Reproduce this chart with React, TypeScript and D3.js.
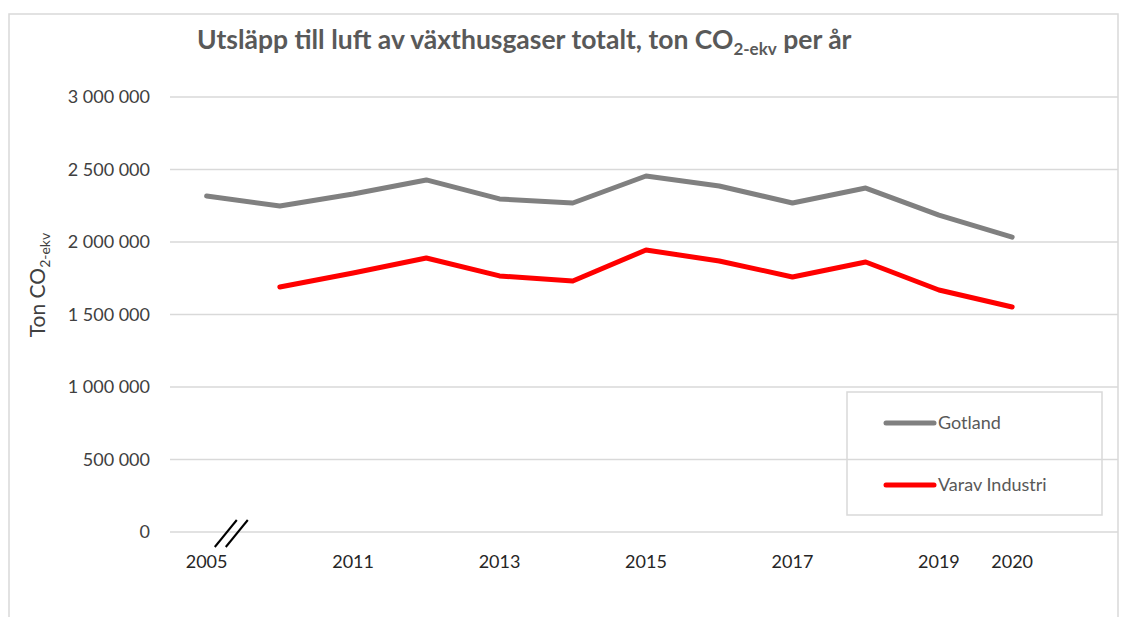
import React from 'react';
import * as d3 from 'd3';

const width = 1123;
const height = 617;
const margin = { top: 97, right: 5, bottom: 85, left: 170 };
const plotBottom = 532;
const gridRight = 1118;
const scaleRight = 1122;

// data
const years = ['2005', '2010', '2011', '2012', '2013', '2014', '2015', '2016', '2017', '2018', '2019', '2020'];
const tickLabels = ['2005', '', '2011', '', '2013', '', '2015', '', '2017', '', '2019', '2020'];
const gotland = [2317000, 2248000, 2331000, 2428000, 2297000, 2269000, 2455000, 2386000, 2269000, 2372000, 2186000, 2034000];
const industri = [null, 1690000, 1786000, 1890000, 1766000, 1731000, 1945000, 1869000, 1759000, 1862000, 1669000, 1552000];
const yTicks = [0, 500000, 1000000, 1500000, 2000000, 2500000, 3000000];

const seriesNames = ['Gotland', 'Varav Industri'];
const seriesColors = ['#808080', '#ff0000'];

const font = 'Lato, "Open Sans", sans-serif';
const fmt = d3.formatLocale({ decimal: ',', thousands: '\u00a0', grouping: [3], currency: ['', ' kr'] }).format(',d');

const App = () => {
  // an empty slot after 2020, like the Excel category axis
  const x = d3
    .scaleBand<string>()
    .domain([...years, ''])
    .range([margin.left, scaleRight])
    .padding(0);
  const cx = (i: number) => (x(years[i]) as number) + x.bandwidth() / 2;

  const y = d3.scaleLinear().domain([0, 3000000]).range([plotBottom, margin.top]);

  const line = d3
    .line<number | null>()
    .defined(d => d != null)
    .x((d, i) => cx(i))
    .y(d => y(d as number));

  const series = [gotland, industri];

  // axis break marks between the first two categories
  const bx = cx(0) + x.step() * 0.33;

  return (
    <svg width={width} height={height} style={{ position: 'absolute', left: 0, top: 0, background: '#fff' }}>
      <rect x={9} y={14} width={1109} height={700} fill="#fff" stroke="#d9d9d9" strokeWidth={1.5} />

      <text x={197} y={49} fontFamily={font} fontWeight="bold" fontSize={26.5} fill="#595959">
        Utsläpp till luft av växthusgaser totalt, ton CO
        <tspan fontSize={17} dy={6}>2-ekv</tspan>
        <tspan dy={-6}> per år</tspan>
      </text>

      {yTicks.map(t => (
        <g key={t}>
          <line x1={margin.left} x2={gridRight} y1={y(t)} y2={y(t)} stroke="#d9d9d9" strokeWidth={1.5} />
          <text x={150} y={y(t) + 6} textAnchor="end" fontFamily={font} fontSize={18} fill="#404040">
            {fmt(t)}
          </text>
        </g>
      ))}

      <text transform="translate(45,285) rotate(-90)" textAnchor="middle" fontFamily={font} fontSize={21} fill="#404040">
        Ton CO
        <tspan fontSize={14} dy={5}>2-ekv</tspan>
      </text>

      {years.map((yr, i) => (
        <text key={yr} x={cx(i)} y={568} textAnchor="middle" fontFamily={font} fontSize={18} fill="#262626">
          {tickLabels[i]}
        </text>
      ))}

      <g stroke="#000" strokeWidth={2}>
        <line x1={bx - 16} y1={547} x2={bx + 6} y2={520} />
        <line x1={bx - 5} y1={547} x2={bx + 17} y2={520} />
      </g>

      {series.map((s, k) => (
        <path
          key={seriesNames[k]}
          d={line(s) || ''}
          fill="none"
          stroke={seriesColors[k]}
          strokeWidth={5}
          strokeLinejoin="round"
          strokeLinecap="round"
        />
      ))}

      <rect x={847} y={392} width={255} height={123} fill="none" stroke="#d9d9d9" strokeWidth={1.5} />
      {seriesNames.map((n, k) => (
        <g key={n} transform={`translate(0, ${423 + k * 62})`}>
          <line x1={886} x2={934} y1={0} y2={0} stroke={seriesColors[k]} strokeWidth={5} strokeLinecap="round" />
          <text x={938} y={6} fontFamily={font} fontSize={18} fill="#595959">
            {n}
          </text>
        </g>
      ))}
    </svg>
  );
};

export default App;
